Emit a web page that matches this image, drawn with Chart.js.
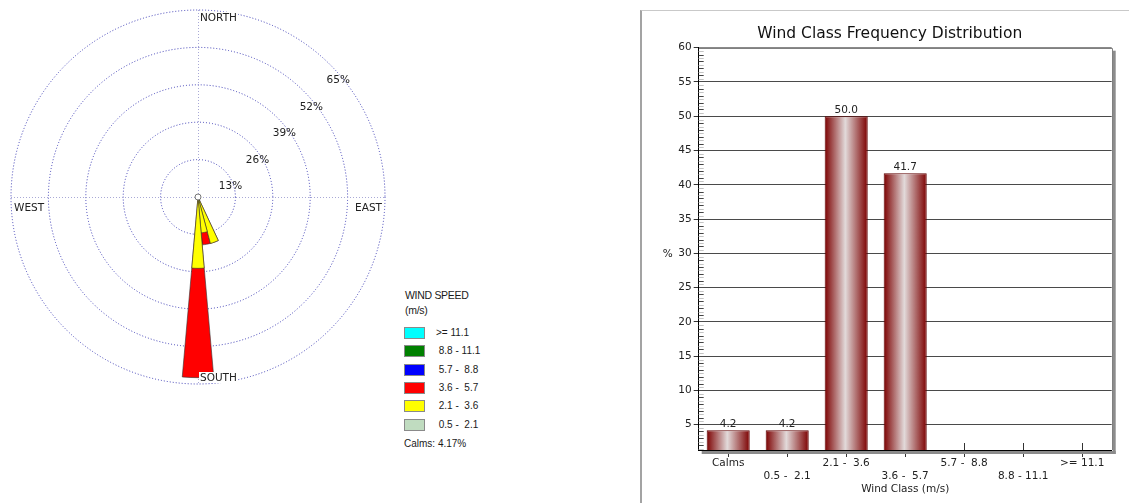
<!DOCTYPE html>
<html>
<head>
<meta charset="utf-8">
<title>Wind Rose / Wind Class Frequency Distribution</title>
<script src="https://cdn.jsdelivr.net/npm/chart.js@4.4.1/dist/chart.umd.min.js"></script>
<style>
  html, body { margin: 0; padding: 0; background: #fff; overflow: hidden; }
  body { width: 1129px; height: 503px; position: relative; font-family: "Liberation Sans", Arial, sans-serif; color: #1a1a1a; }
  #roseBox { position: absolute; left: 0; top: 0; width: 396px; height: 394px; }
  .lg { position: absolute; white-space: pre; font-size: 10px; line-height: 12px; }
  .lgHead { position: absolute; left: 405px; top: 288px; font-size: 10.5px; line-height: 15px; letter-spacing: -0.3px; }
  .sw { position: absolute; left: 404px; width: 21px; height: 12px; box-sizing: border-box; border: 1px solid #8a8a8a; }
  #panel { position: absolute; left: 640px; top: 10px; width: 489px; height: 493px; box-sizing: border-box; border-left: 2px solid #a3a3a3; border-top: 1px solid #c9c9c9; }
  #barBox { position: absolute; left: 643px; top: 11px; width: 486px; height: 492px; }
</style>
</head>
<body>
<div id="roseBox"><canvas id="roseChart"></canvas></div>
<div class="lgHead">WIND SPEED<br>(m/s)</div>
<div id="legend"></div>
<div class="lg" style="left:404px;top:438px">Calms: 4.17%</div>
<div id="panel"></div>
<div id="barBox"><canvas id="barChart"></canvas></div>

<script>
// --- Data ---
// wind rose petals (direction the wind blows from, degrees) and % per speed class
const roseDirs = [160, 170, 180];
const rose21to36 = [16.7, 12.5, 24.8];
const rose36to57 = [0, 4.2, 38.0];
const ringTicks = [13, 26, 39, 52, 65];

// legend classes, top to bottom
const speedClasses = [">= 11.1", " 8.8 - 11.1", " 5.7 -  8.8", " 3.6 -  5.7", " 2.1 -  3.6", " 0.5 -  2.1"];
const speedColors = ["#00ffff", "#008000", "#0000ff", "#ff0000", "#ffff00", "#c0dcc0"];

// frequency distribution
const classLabels = ["Calms", "0.5 -  2.1", "2.1 -  3.6", "3.6 -  5.7", "5.7 -  8.8", "8.8 - 11.1", ">= 11.1"];
const classPct = [4.17, 4.17, 50.0, 41.67, 0, 0, 0];

const FONT = "DejaVu Sans";

// --- Legend ---
const legendEl = document.getElementById("legend");
speedClasses.forEach((txt, i) => {
    const top = 327 + i * 18.33;
    const sw = document.createElement("div");
    sw.className = "sw";
    sw.style.top = top + "px";
    sw.style.background = speedColors[i];
    legendEl.appendChild(sw);
    const lb = document.createElement("div");
    lb.className = "lg";
    lb.style.left = "436px";
    lb.style.top = top + "px";
    lb.textContent = txt;
    legendEl.appendChild(lb);
});

// --- Wind rose (36 sectors of 10 degrees) ---
const sectorLabels = [];
const innerData = [];
const outerData = [];
for (let d = 0; d < 360; d += 10) {
    sectorLabels.push(d + "°");
    const k = roseDirs.indexOf(d);
    const a = k < 0 ? 0 : rose21to36[k];
    const b = k < 0 ? 0 : rose36to57[k];
    innerData.push(a);
    outerData.push(a + b); // stacked: outer petal is cumulative
}

const roseExtras = {
    id: "roseExtras",
    beforeDatasetsDraw(chart) {
        const s = chart.scales.r, ctx = chart.ctx;
        const cx = s.xCenter, cy = s.yCenter, R = s.drawingArea;
        ctx.save();
        ctx.strokeStyle = "#a9a9d6";
        ctx.lineWidth = 1;
        ctx.setLineDash([1, 2]);
        ctx.beginPath();
        ctx.moveTo(cx - R, cy + 0.5); ctx.lineTo(cx + R, cy + 0.5);
        ctx.moveTo(cx + 0.5, cy - R); ctx.lineTo(cx + 0.5, cy + R);
        ctx.stroke();
        ctx.restore();
    },
    afterDatasetsDraw(chart) {
        const s = chart.scales.r, ctx = chart.ctx;
        const cx = s.xCenter, cy = s.yCenter, R = s.drawingArea;
        ctx.save();
        ctx.font = "10.5px '" + FONT + "'";
        ctx.textBaseline = "alphabetic";
        ctx.fillStyle = "#222";
        ctx.textAlign = "center";
        ringTicks.forEach(v => {
            const d = s.getDistanceFromCenterForValue(v);
            ctx.fillText(v + "%", cx + 0.72 * d + 5.6, cy - 0.707 * d + 18.6);
        });

        // hub
        ctx.beginPath();
        ctx.arc(cx, cy, 3, 0, Math.PI * 2);
        ctx.fillStyle = "#fff";
        ctx.fill();
        ctx.strokeStyle = "#777";
        ctx.lineWidth = 1;
        ctx.stroke();

        const lab = (t, x, y, align) => {
            ctx.textAlign = align;
            const w = ctx.measureText(t).width;
            const x0 = align === "right" ? x - w : x;
            ctx.fillStyle = "#fff";
            ctx.fillRect(x0 - 1, y - 9, w + 2, 11);
            ctx.fillStyle = "#222";
            ctx.fillText(t, x, y);
        };
        lab("NORTH", cx + 2, cy - R + 11, "left");
        lab("SOUTH", cx + 2, cy + R - 3, "left");
        lab("WEST", cx - R + 3, cy + 14, "left");
        lab("EAST", cx + R - 3, cy + 14, "right");
        ctx.restore();
    }
};

new Chart(document.getElementById("roseChart"), {
    type: "polarArea",
    data: {
        labels: sectorLabels,
        datasets: [
            { label: "2.1 - 3.6", data: innerData, backgroundColor: speedColors[4] },
            { label: "3.6 - 5.7", data: outerData, backgroundColor: speedColors[3] }
        ]
    },
    options: {
        responsive: true,
        maintainAspectRatio: false,
        animation: false,
        events: [],
        layout: { padding: 10 },
        elements: {
            arc: {
                borderColor: "#333",
                borderWidth: c => (c.raw > 0 ? 0.6 : 0)
            }
        },
        scales: {
            r: {
                min: 0,
                max: 65,
                startAngle: -5,
                ticks: { display: false, stepSize: 13 },
                pointLabels: { display: false },
                angleLines: { display: false },
                grid: { circular: true, color: "#3c3cb4", lineWidth: 1 },
                border: { dash: [1, 2] }
            }
        },
        plugins: { legend: { display: false }, tooltip: { enabled: false } }
    },
    plugins: [roseExtras]
});

// --- Wind class frequency bar chart ---
// cylinder shading, built from the category scale once the layout is known
function barGradient(c) {
    const x = c.chart.scales.x;
    if (!x || c.type !== "data") return "#8b0000";
    const mid = x.getPixelForValue(c.dataIndex);
    const half = x.width / classLabels.length * 0.73 / 2;
    if (!isFinite(mid) || !isFinite(half) || half <= 0) return "#8b0000";
    const g = c.chart.ctx.createLinearGradient(mid - half, 0, mid + half, 0);
    g.addColorStop(0, "#7c0000");
    g.addColorStop(0.48, "#e2dada");
    g.addColorStop(1, "#7c0000");
    return g;
}

const barExtras = {
    id: "barExtras",
    beforeDatasetsDraw(chart) {
        const { ctx, chartArea: a, scales: { x, y } } = chart;
        ctx.save();
        // minor ticks inside the plot on the y axis
        for (let v = Math.ceil(y.min * 2) / 2; v < y.max; v += 0.5) {
            if (v % 5 === 0) continue;
            const py = Math.round(y.getPixelForValue(v)) + 0.5;
            ctx.strokeStyle = v % 1 === 0 ? "#444" : "#c4c4c4";
            ctx.beginPath();
            ctx.moveTo(a.left, py);
            ctx.lineTo(a.left + 5, py);
            ctx.stroke();
        }
        // inner half of x ticks
        ctx.strokeStyle = "#333";
        x.ticks.forEach((t, i) => {
            const px = Math.round(x.getPixelForTick(i)) + 0.5;
            ctx.beginPath();
            ctx.moveTo(px, a.bottom - 7);
            ctx.lineTo(px, a.bottom);
            ctx.stroke();
        });
        ctx.restore();
    },
    afterDatasetsDraw(chart) {
        const { ctx, scales: { y } } = chart;
        const meta = chart.getDatasetMeta(0);
        ctx.save();
        ctx.font = "10.5px '" + FONT + "'";
        ctx.fillStyle = "#222";
        ctx.textAlign = "center";
        ctx.textBaseline = "alphabetic";
        meta.data.forEach((bar, i) => {
            if (classPct[i] <= y.min) return;
            ctx.fillText(classPct[i].toFixed(1), bar.x, bar.y - 3);
        });
        ctx.restore();
    },
    afterDraw(chart) {
        const { ctx, chartArea: a } = chart;
        ctx.save();
        // frame + drop shadow
        ctx.fillStyle = "#8c8c8c";
        ctx.fillRect(a.right + 1, a.top + 3, 3, a.bottom - a.top + 1);
        ctx.fillRect(a.left + 3, a.bottom + 1, a.right - a.left + 1, 3);
        ctx.strokeStyle = "#808080";
        ctx.lineWidth = 1;
        ctx.beginPath();
        ctx.moveTo(Math.round(a.left), Math.round(a.top) + 0.5);
        ctx.lineTo(Math.round(a.right) + 0.5, Math.round(a.top) + 0.5);
        ctx.lineTo(Math.round(a.right) + 0.5, a.bottom);
        ctx.stroke();
        // titles
        ctx.fillStyle = "#111";
        ctx.textAlign = "center";
        ctx.textBaseline = "alphabetic";
        ctx.font = "15.5px '" + FONT + "'";
        ctx.fillText("Wind Class Frequency Distribution", 246.7, 26.7);
        ctx.font = "10.5px '" + FONT + "'";
        ctx.fillStyle = "#222";
        ctx.fillText("%", a.left - 31, (a.top + a.bottom) / 2 + 8.5);
        ctx.restore();
    }
};

new Chart(document.getElementById("barChart"), {
    type: "bar",
    data: {
        labels: classLabels,
        datasets: [{
            label: "Wind Class",
            data: classPct,
            backgroundColor: barGradient,
            borderColor: "#5e0000",
            borderWidth: 1,
            barPercentage: 0.73,
            categoryPercentage: 1,
            clip: 0
        }]
    },
    options: {
        responsive: true,
        maintainAspectRatio: false,
        animation: false,
        events: [],
        layout: { padding: { top: 36.7, right: 17.3, left: 0, bottom: 0 } },
        scales: {
            x: {
                offset: true,
                grid: { offset: false, drawOnChartArea: false, tickLength: 7, tickColor: "#333" },
                border: { color: "#000", width: 1 },
                ticks: {
                    autoSkip: false,
                    maxRotation: 0,
                    padding: 0,
                    color: "#222",
                    font: { family: FONT, size: 10.5, lineHeight: 1.22 },
                    callback(value, index) {
                        const l = this.getLabelForValue(value);
                        return index % 2 ? ["", l] : [l, ""];
                    }
                },
                title: {
                    display: true,
                    text: "Wind Class (m/s)",
                    color: "#222",
                    font: { family: FONT, size: 10.5, lineHeight: 1.2 },
                    padding: { top: 0, bottom: 7 }
                },
                afterFit(s) { s.height = 53; }
            },
            y: {
                min: 1.3,
                max: 60,
                grid: {
                    color: c => (c.tick && c.tick.value % 5 === 0 ? (c.tick.value === 60 ? "#8a8a8a" : "#4a4a4a") : "rgba(0,0,0,0)"),
                    tickColor: c => (c.tick && c.tick.value % 5 === 0 ? "#333" : "rgba(0,0,0,0)"),
                    tickLength: 5,
                    lineWidth: 1
                },
                border: { color: "#000", width: 1 },
                ticks: {
                    stepSize: 5,
                    autoSkip: false,
                    padding: 2,
                    color: "#222",
                    font: { family: FONT, size: 10.5 },
                    callback: v => (v % 5 === 0 ? v : "")
                },
                afterFit(s) { s.width = 55.7; }
            }
        },
        plugins: { legend: { display: false }, tooltip: { enabled: false } }
    },
    plugins: [barExtras]
});
</script>
</body>
</html>
